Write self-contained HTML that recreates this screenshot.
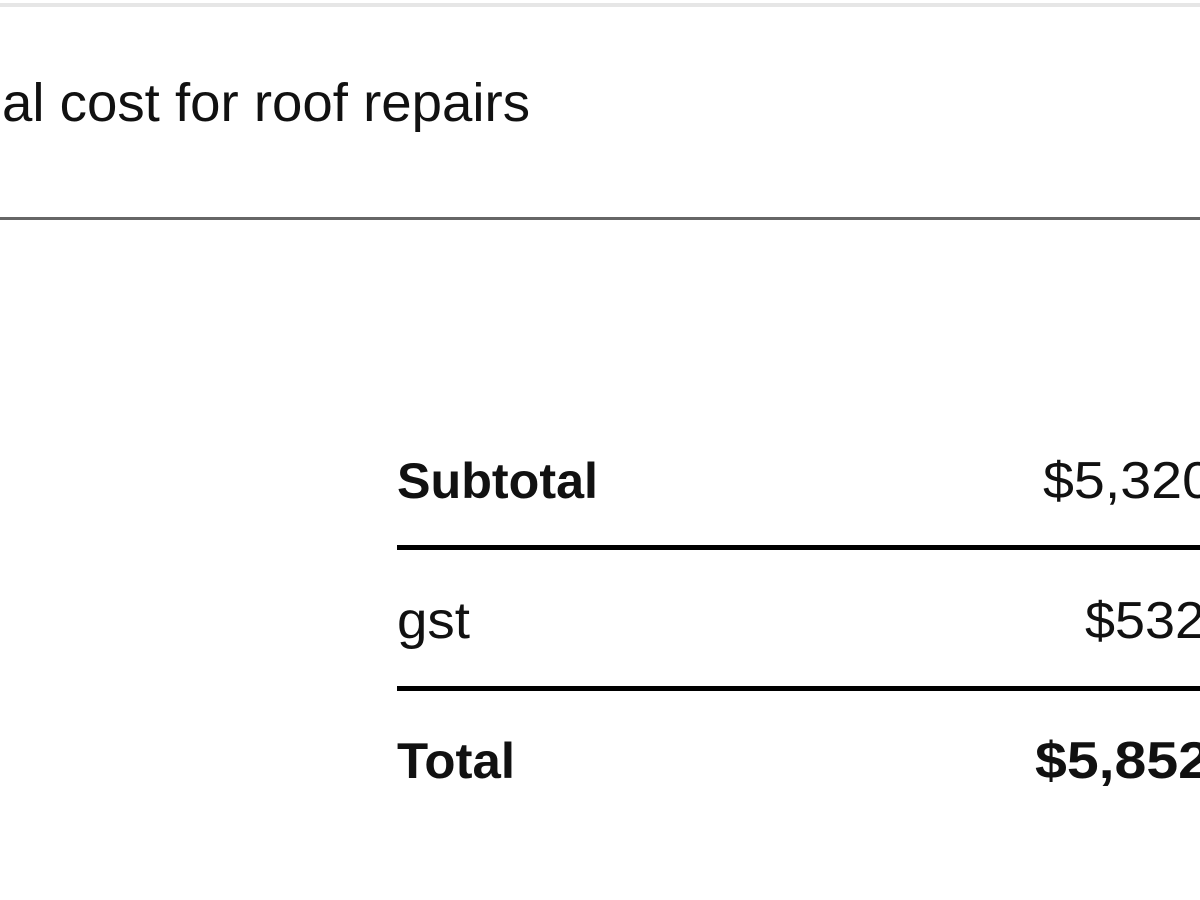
<!DOCTYPE html>
<html><head><meta charset="utf-8"><style>
html,body{margin:0;padding:0;background:#fff;width:1200px;height:900px;overflow:hidden}
svg{display:block}
text{font-family:"Liberation Sans",Arial,sans-serif;fill:#111}
</style></head><body>
<svg width="1200" height="900" viewBox="0 0 1200 900" xmlns="http://www.w3.org/2000/svg">
<rect x="0" y="3" width="1200" height="4" fill="#e6e6e6"/>
<text x="2" y="121" font-size="54" textLength="528" lengthAdjust="spacingAndGlyphs">al cost for roof repairs</text>
<rect x="0" y="217" width="1200" height="3" fill="#666"/>
<text x="397" y="498" font-size="50" font-weight="bold" textLength="201" lengthAdjust="spacingAndGlyphs">Subtotal</text>
<text x="1043" y="498" font-size="52" textLength="170" lengthAdjust="spacingAndGlyphs">$5,320</text>
<rect x="397" y="545" width="803" height="5" fill="#000"/>
<text x="397" y="638" font-size="52" textLength="73" lengthAdjust="spacingAndGlyphs">gst</text>
<text x="1085" y="638" font-size="52" textLength="120" lengthAdjust="spacingAndGlyphs">$532</text>
<rect x="397" y="686" width="803" height="5" fill="#000"/>
<text x="397" y="778" font-size="50" font-weight="bold" textLength="118" lengthAdjust="spacingAndGlyphs">Total</text>
<text x="1035" y="778" font-size="52" font-weight="bold" textLength="175" lengthAdjust="spacingAndGlyphs">$5,852</text>
</svg>
</body></html>
